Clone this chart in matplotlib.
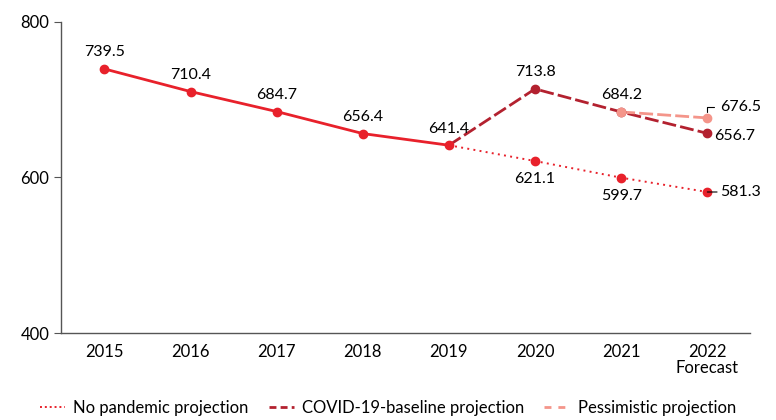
import matplotlib
matplotlib.use('Agg')
import matplotlib.pyplot as plt
from matplotlib.lines import Line2D

plt.rcParams['font.family'] = ['Lato', 'DejaVu Sans']

years = [2015, 2016, 2017, 2018, 2019, 2020, 2021, 2022]
tick_labels = ['2015', '2016', '2017', '2018', '2019', '2020', '2021', '2022\nForecast']

# actual values up to 2019
actual_years = [2015, 2016, 2017, 2018, 2019]
actual = [739.5, 710.4, 684.7, 656.4, 641.4]

# projections from 2019 on
proj_years = [2019, 2020, 2021, 2022]
no_pandemic = [641.4, 621.1, 599.7, 581.3]
baseline = [641.4, 713.8, 684.2, 656.7]
pess_years = [2021, 2022]
pessimistic = [684.2, 676.5]

red = '#E8212B'
dark_red = '#B3212F'
salmon = '#F4958A'

fig = plt.figure(figsize=(7.76, 4.2), dpi=100)
ax = fig.add_axes([0.079, 0.207, 0.888, 0.741])

ax.plot(proj_years, no_pandemic, color=red, lw=1.4, ls=(0, (1, 2.2)), zorder=2)
ax.plot(proj_years[1:], no_pandemic[1:], 'o', color=red, ms=6, zorder=3)
ax.plot(proj_years, baseline, color=dark_red, lw=2.0, ls=(0, (5, 1.5)), zorder=3)
ax.plot(proj_years[1:], baseline[1:], 'o', color=dark_red, ms=6, zorder=4)
ax.plot(pess_years, pessimistic, color=salmon, lw=2.0, ls=(0, (5, 1.5)), zorder=3)
ax.plot(pess_years, pessimistic, 'o', color=salmon, ms=6, zorder=5)
ax.plot(actual_years, actual, color=red, lw=2.0, marker='o', ms=6, zorder=4)

fs = 12
lfs = 11.5
for x, v in zip(actual_years, actual):
    ax.annotate(f'{v:.1f}', (x, v), xytext=(0, 7), textcoords='offset points',
                ha='center', va='bottom', fontsize=lfs)
ax.annotate(f'{baseline[1]:.1f}', (2020, baseline[1]), xytext=(0, 7), textcoords='offset points',
            ha='center', va='bottom', fontsize=lfs)
ax.annotate(f'{baseline[2]:.1f}', (2021, baseline[2]), xytext=(0, 7), textcoords='offset points',
            ha='center', va='bottom', fontsize=lfs)
for x, v in zip(proj_years[1:3], no_pandemic[1:3]):
    ax.annotate(f'{v:.1f}', (x, v), xytext=(0, -8), textcoords='offset points',
                ha='center', va='top', fontsize=lfs)

# right-hand labels for 2022 with short leaders
ax.annotate(f'{no_pandemic[3]:.1f}', (2022, no_pandemic[3]), xytext=(9, 0), textcoords='offset points',
            ha='left', va='center', fontsize=lfs,
            arrowprops=dict(arrowstyle='-', color='black', lw=0.8, shrinkA=0, shrinkB=0))
ax.annotate(f'{baseline[3]:.1f}', (2022, baseline[3]), xytext=(5, -2), textcoords='offset points',
            ha='left', va='center', fontsize=lfs,
            arrowprops=dict(arrowstyle='-', color='black', lw=0.8, shrinkA=0, shrinkB=0))
ax.annotate(f'{pessimistic[1]:.1f}', (2022, pessimistic[1]), xytext=(9, 8), textcoords='offset points',
            ha='left', va='center', fontsize=lfs,
            arrowprops=dict(arrowstyle='-', color='black', lw=0.8, shrinkA=2, shrinkB=4,
                            connectionstyle='angle,angleA=0,angleB=90,rad=0'))

ax.set_xlim(2014.5, 2022.5)
ax.set_ylim(400, 800)
ax.set_yticks([400, 600, 800])
ax.set_xticks(years)
ax.set_xticklabels(tick_labels, fontsize=fs, linespacing=1.0)
ax.tick_params(axis='y', labelsize=fs, length=5, width=0.8, color='#555555')
ax.tick_params(axis='x', length=0, pad=8)
for s in ['top', 'right']:
    ax.spines[s].set_visible(False)
for s in ['left', 'bottom']:
    ax.spines[s].set_color('#555555')
    ax.spines[s].set_linewidth(1.0)

handles = [
    Line2D([], [], color=red, lw=1.4, ls=(0, (1, 1.5))),
    Line2D([], [], color=dark_red, lw=2.0, ls=(0, (2.5, 1.5))),
    Line2D([], [], color=salmon, lw=2.0, ls=(0, (2.5, 2.5))),
]
labels = ['No pandemic projection', 'COVID-19-baseline projection', 'Pessimistic projection']
fig.legend(handles, labels, loc='lower center', bbox_to_anchor=(0.5, -0.025), ncol=3,
           frameon=False, fontsize=fs, handlelength=1.5, handletextpad=0.5, columnspacing=1.2)

fig.savefig('out.png', dpi=100)
